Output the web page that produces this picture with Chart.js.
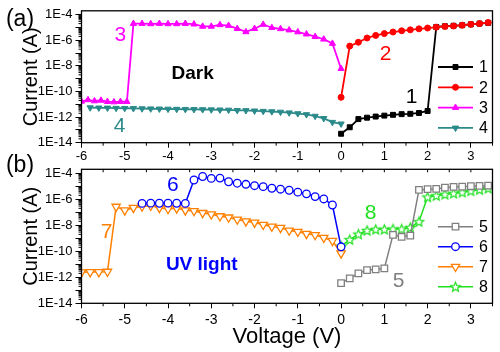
<!DOCTYPE html>
<html>
<head>
<meta charset="utf-8">
<script src="https://cdn.jsdelivr.net/npm/chart.js@4.4.1/dist/chart.umd.min.js"></script>
<style>
  html, body { margin: 0; padding: 0; background: #fff; }
  #wrap { position: relative; width: 500px; height: 352px; overflow: hidden; }
  canvas { position: absolute; left: 0; }
  #cA { top: 0; }
  #cB { top: 148px; }
</style>
</head>
<body>
<div id="wrap">
  <canvas id="cB" width="500" height="204"></canvas>
  <canvas id="cA" width="500" height="166"></canvas>
</div>
<script>
// ---- panel (a): dark ----
const vDark1 = [0, 0.2, 0.4, 0.6, 0.8, 1.0, 1.2, 1.4, 1.6, 1.8, 2.0, 2.2, 2.4, 2.6, 2.8, 3.0, 3.2, 3.4];
const iDark1 = [5e-14, 1.6e-13, 7e-13, 9e-13, 1.1e-12, 1.3e-12, 1.5e-12, 1.7e-12, 1.8e-12, 2.1e-12, 3e-12,
                1.1e-5, 1.25e-5, 1.35e-5, 1.5e-5, 1.75e-5, 2e-5, 2.3e-5];

const vDark2 = [0, 0.2, 0.4, 0.6, 0.8, 1.0, 1.2, 1.4, 1.6, 1.8, 2.0, 2.2, 2.4, 2.6, 2.8, 3.0, 3.2, 3.4];
const iDark2 = [3.5e-11, 3.5e-7, 7e-7, 1.5e-6, 2.4e-6, 3.3e-6, 4.4e-6, 5.5e-6, 6.5e-6, 7.8e-6, 9e-6,
                1.05e-5, 1.2e-5, 1.3e-5, 1.5e-5, 1.75e-5, 2e-5, 2.4e-5];

const vDark3 = [-6, -5.85, -5.7, -5.55, -5.4, -5.25, -5.1, -4.95,
                -4.8, -4.6, -4.4, -4.2, -4.0, -3.8, -3.6, -3.4, -3.2, -3.0, -2.8, -2.6, -2.4,
                -2.2, -2.0, -1.8, -1.6, -1.4, -1.2, -1.0, -0.8, -0.6, -0.4, -0.2, 0];
const iDark3 = [1.7e-11, 2.2e-11, 1.8e-11, 2e-11, 1.6e-11, 1.5e-11, 1.6e-11, 1.6e-11,
                2e-5, 2e-5, 1.9e-5, 2e-5, 1.9e-5, 1.9e-5, 2e-5, 1.8e-5, 1.2e-5, 1.2e-5, 1.6e-5, 1.4e-5, 8e-6,
                4.5e-6, 8e-6, 1.7e-5, 9.5e-6, 7.8e-6, 6.2e-6, 4.4e-6, 3e-6, 1.9e-6, 1.2e-6, 5.6e-7, 6e-9];

const vDark4 = [-5.8, -5.6, -5.4, -5.2, -5.0, -4.8, -4.6, -4.4, -4.2, -4.0, -3.8, -3.6, -3.4, -3.2, -3.0,
                -2.8, -2.6, -2.4, -2.2, -2.0, -1.8, -1.6, -1.4, -1.2, -1.0, -0.8, -0.6, -0.4, -0.2, 0];
const iDark4 = [5.5e-12, 5.3e-12, 5.2e-12, 5e-12, 4.9e-12, 4.8e-12, 4.6e-12, 4.5e-12, 4.4e-12, 4.3e-12,
                4.2e-12, 4.1e-12, 4e-12, 3.9e-12, 3.8e-12, 3.7e-12, 3.6e-12, 3.4e-12, 3.3e-12, 3.1e-12,
                2.9e-12, 2.7e-12, 2.5e-12, 2.2e-12, 1.9e-12, 1.6e-12, 1.2e-12, 8e-13, 4e-13, 3e-13];

// ---- panel (b): UV light ----
const vUv5 = [0, 0.2, 0.4, 0.6, 0.8, 1.0, 1.2, 1.4, 1.6, 1.8, 2.0, 2.2, 2.4, 2.6, 2.8, 3.0, 3.2, 3.4];
const iUv5 = [3.5e-13, 8.3e-13, 2e-12, 3.6e-12, 4e-12, 4.8e-12, 1.8e-9, 1.3e-9, 1.6e-9,
              5.2e-6, 5.9e-6, 6.2e-6, 7.8e-6, 8.9e-6, 9.3e-6, 1e-5, 1.05e-5, 1.1e-5];

const vUv6 = [-4.6, -4.4, -4.2, -4.0, -3.8, -3.6, -3.4, -3.2, -3.0, -2.8, -2.6, -2.4, -2.2, -2.0,
              -1.8, -1.6, -1.4, -1.2, -1.0, -0.8, -0.6, -0.4, -0.2, 0];
const iUv6 = [4.8e-7, 5e-7, 4.9e-7, 5e-7, 4.9e-7, 4.8e-7, 3e-5, 5.6e-5, 4e-5, 4.2e-5, 2.2e-5, 1.7e-5,
              1.4e-5, 1.1e-5, 9.3e-6, 7e-6, 5.9e-6, 4.9e-6, 3.5e-6, 2.6e-6, 1.6e-6, 1.05e-6, 3.6e-7, 2.2e-10];

const vUv7 = [-6, -5.8, -5.6, -5.4, -5.2, -5.0, -4.8, -4.6, -4.4, -4.2, -4.0, -3.8, -3.6, -3.4, -3.2,
              -3.0, -2.8, -2.6, -2.4, -2.2, -2.0, -1.8, -1.6, -1.4, -1.2, -1.0, -0.8, -0.6, -0.4, -0.2, 0];
const iUv7 = [2.4e-12, 2.5e-12, 2.5e-12, 2.7e-12, 2.7e-7, 1.4e-7, 2.2e-7, 2.8e-7, 3.2e-7, 2.2e-7, 1.8e-7,
              2e-7, 1.4e-7, 1.26e-7, 8.9e-8, 7e-8, 5e-8, 4e-8, 2.8e-8, 2e-8, 1.6e-8, 1.1e-8, 8e-9, 6.3e-9,
              4e-9, 3.2e-9, 2.2e-9, 1.8e-9, 1.1e-9, 6.3e-10, 7e-11];

const vUv8 = [0, 0.2, 0.4, 0.6, 0.8, 1.0, 1.2, 1.4, 1.6, 1.8, 2.0, 2.2, 2.4, 2.6, 2.8, 3.0, 3.2, 3.4];
const iUv8 = [2.5e-10, 8e-10, 2.1e-9, 4e-9, 4.9e-9, 4.9e-9, 5.2e-9, 5.2e-9, 6.8e-9, 1.9e-8,
              1.5e-6, 1.9e-6, 2.4e-6, 2.9e-6, 3.5e-6, 4.4e-6, 5.5e-6, 7e-6];

// axes
const xTicks = [-6, -5, -4, -3, -2, -1, 0, 1, 2, 3];
const xMinor = [-5.5, -4.5, -3.5, -2.5, -1.5, -0.5, 0.5, 1.5, 2.5, 3.5];
const yTicks = [1e-14, 1e-13, 1e-12, 1e-11, 1e-10, 1e-9, 1e-8, 1e-7, 1e-6, 1e-5, 1e-4];

const FONT = "'Liberation Sans', Arial, sans-serif";
const TEAL = '#2b8a8a', ORANGE = '#ff8000', GREEN = '#1fe01f';

function pts(xs, ys) {
  return xs.map((v, k) => ({ x: v, y: ys[k] }));
}

function makeStar(color, r) {
  const c = document.createElement('canvas');
  const s = Math.ceil(r * 2 + 3);
  c.width = s; c.height = s;
  const g = c.getContext('2d');
  g.translate(s / 2, s / 2 + 0.5);
  g.beginPath();
  for (let k = 0; k < 10; k++) {
    const rr = k % 2 ? r * 0.45 : r;
    const ang = -Math.PI / 2 + k * Math.PI / 5;
    g.lineTo(rr * Math.cos(ang), rr * Math.sin(ang));
  }
  g.closePath();
  g.fillStyle = '#fff';
  g.fill();
  g.strokeStyle = color;
  g.lineWidth = 1.2;
  g.stroke();
  return c;
}

function series(label, xs, ys, color, style, radius, extra) {
  return Object.assign({
    label: label,
    data: pts(xs, ys),
    borderColor: color,
    backgroundColor: color,
    pointBackgroundColor: color,
    pointBorderColor: color,
    pointStyle: style,
    pointRadius: radius,
    pointBorderWidth: 1,
    borderWidth: 1.8,
    tension: 0
  }, extra || {});
}

const dsDark = [
  series('1', vDark1, iDark1, '#000', 'rect', 3.5, { order: 1 }),
  series('2', vDark2, iDark2, '#ff0000', 'circle', 3),
  series('3', vDark3, iDark3, '#ff00ff', 'triangle', 3.6),
  series('4', vDark4, iDark4, TEAL, 'triangle', 3.6, { pointRotation: 180 })
];

const open = { pointBackgroundColor: '#fff', pointBorderWidth: 1.3, borderWidth: 1.5 };
const dsUv = [
  series('5', vUv5, iUv5, '#808080', 'rect', 4.6, open),
  series('6', vUv6, iUv6, '#0000ff', 'circle', 3.8, open),
  series('7', vUv7, iUv7, ORANGE, 'triangle', 4.8, Object.assign({ pointRotation: 180 }, open)),
  series('8', vUv8, iUv8, GREEN, makeStar(GREEN, 5), 5, open)
];

const notesDark = [
  { t: '3', x: -5.1, y: 2.5e-6, c: '#ff00ff' },
  { t: '2', x: 1.03, y: 8e-8, c: '#ff0000' },
  { t: '1', x: 1.63, y: 3.5e-11, c: '#000' },
  { t: '4', x: -5.12, y: 1.8e-13, c: TEAL },
  { t: 'Dark', x: -3.43, y: 2.4e-9, c: '#000', bold: true }
];
const notesUv = [
  { t: '6', x: -3.89, y: 1.26e-5, c: '#0000ff' },
  { t: '7', x: -5.42, y: 3e-9, c: ORANGE },
  { t: 'UV light', x: -3.22, y: 9e-12, c: '#0000ff', bold: true },
  { t: '8', x: 0.68, y: 9e-8, c: GREEN },
  { t: '5', x: 1.33, y: 5.2e-13, c: '#808080' }
];

function decor(p) {
  return {
    id: 'decor',
    afterDraw(chart) {
      const ctx = chart.ctx, a = chart.chartArea;
      const x = chart.scales.x, y = chart.scales.y;
      ctx.save();
      ctx.strokeStyle = '#000';
      ctx.lineWidth = 1;
      ctx.beginPath();
      for (let e = -14; e < -4; e++) {
        for (let m = 2; m <= 9; m++) {
          const py = y.getPixelForValue(m * Math.pow(10, e));
          ctx.moveTo(a.left - 3, py);
          ctx.lineTo(a.left, py);
        }
      }
      xMinor.forEach(v => {
        const px = x.getPixelForValue(v);
        ctx.moveTo(px, a.bottom);
        ctx.lineTo(px, a.bottom + 3);
      });
      if (p.topTicks) {
        xTicks.concat(xMinor).forEach(v => {
          const px = x.getPixelForValue(v);
          ctx.moveTo(px, a.top);
          ctx.lineTo(px, a.top + 3);
        });
      }
      ctx.stroke();
      ctx.lineWidth = 1.3;
      ctx.strokeRect(a.left, a.top, a.right - a.left, a.bottom - a.top);

      // curve labels
      ctx.textAlign = 'center';
      ctx.textBaseline = 'middle';
      p.notes.forEach(n => {
        ctx.fillStyle = n.c;
        ctx.font = n.bold ? 'bold 19px ' + FONT : '21px ' + FONT;
        ctx.fillText(n.t, x.getPixelForValue(n.x), y.getPixelForValue(n.y));
      });
      ctx.fillStyle = '#000';
      ctx.font = '23px ' + FONT;
      ctx.fillText(p.tag, 20, p.tagY);

      // legend
      chart.data.datasets.forEach((d, k) => {
        const ly = p.legTop + k * p.legGap;
        ctx.strokeStyle = d.borderColor;
        ctx.lineWidth = d.borderWidth;
        ctx.beginPath();
        ctx.moveTo(438, ly);
        ctx.lineTo(473, ly);
        ctx.stroke();
        ctx.fillStyle = d.pointBackgroundColor;
        ctx.lineWidth = d.pointBorderWidth;
        Chart.helpers.drawPoint(ctx, {
          pointStyle: d.pointStyle, radius: d.pointRadius,
          rotation: d.pointRotation || 0, borderWidth: d.pointBorderWidth
        }, 455.5, ly);
        ctx.fillStyle = '#000';
        ctx.font = '16px ' + FONT;
        ctx.textAlign = 'left';
        ctx.fillText(d.label, 479, ly + 1);
      });
      ctx.restore();
    }
  };
}

function makePanel(id, datasets, p) {
  return new Chart(document.getElementById(id), {
    type: 'line',
    data: { datasets: datasets },
    options: {
      responsive: false,
      animation: false,
      events: [],
      layout: { padding: { top: p.padTop, right: 7.5, left: 0, bottom: 0 } },
      plugins: { legend: { display: false }, tooltip: { enabled: false } },
      scales: {
        x: {
          type: 'linear', min: -6, max: 3.5,
          afterBuildTicks: s => { s.ticks = xTicks.map(v => ({ value: v })); },
          afterFit: s => { s.height = p.xHeight; },
          grid: { drawOnChartArea: false, tickLength: 5, color: '#000', lineWidth: 1 },
          border: { display: false },
          ticks: {
            autoSkip: false, maxRotation: 0, padding: p.xPad, color: '#000',
            font: { family: FONT, size: p.xFont }, callback: v => String(v)
          },
          title: {
            display: !!p.xTitle, text: p.xTitle || '', color: '#000',
            font: { family: FONT, size: 22 }, padding: { top: 0, bottom: 2 }
          }
        },
        y: {
          type: 'logarithmic', min: 1e-14, max: 2e-4,
          afterBuildTicks: s => { s.ticks = yTicks.map(v => ({ value: v })); },
          afterFit: s => { s.width = 81.5; },
          grid: { drawOnChartArea: false, tickLength: 6, color: '#000', lineWidth: 1 },
          border: { display: false },
          ticks: {
            autoSkip: false, padding: 3, color: '#000', font: { family: FONT, size: 13 },
            callback: v => {
              const e = Math.round(Math.log10(v));
              return e % 2 === 0 ? '1E' + e : '';
            }
          },
          title: {
            display: true, text: 'Current (A)', color: '#000',
            font: { family: FONT, size: 20 }, padding: { top: 19, bottom: 0 }
          }
        }
      }
    },
    plugins: [decor(p)]
  });
}

makePanel('cA', dsDark, {
  padTop: 7, xHeight: 23.3, xPad: 1, xFont: 13, notes: notesDark,
  tag: '(a)', tagY: 20, legTop: 67, legGap: 20.3, topTicks: false
});
makePanel('cB', dsUv, {
  padTop: 21.3, xHeight: 48.7, xPad: 3, xFont: 14, xTitle: 'Voltage (V)', notes: notesUv,
  tag: '(b)', tagY: 18, legTop: 78.7, legGap: 20, topTicks: true
});
</script>
</body>
</html>
